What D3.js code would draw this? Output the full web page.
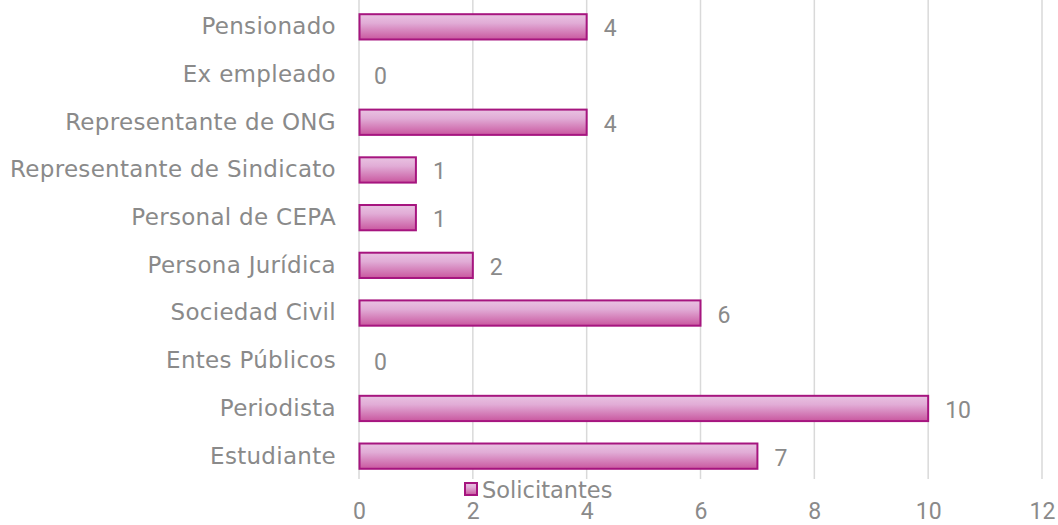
<!DOCTYPE html>
<html><head><meta charset="utf-8">
<script src="https://cdn.jsdelivr.net/npm/d3@7"></script>
<style>
html,body{margin:0;padding:0;background:#fff;}
svg{display:block;}
text{font-family:"DejaVu Sans",sans-serif;}
</style></head>
<body>
<svg id="c" width="1058" height="525"></svg>
<script>
const categories = ["Pensionado","Ex empleado","Representante de ONG","Representante de Sindicato","Personal de CEPA","Persona Jurídica","Sociedad Civil","Entes Públicos","Periodista","Estudiante"];
const values = [4,0,4,1,1,2,6,0,10,7];
const xTicks = [0,2,4,6,8,10,12];
const seriesName = "Solicitantes";

(function(){
const rows = categories.map((c,i)=>({c, v: values[i]}));
const svg = d3.select("#c");
const pL = 359, pR = 1042, pT = 3, pB = 480;
const x = d3.scaleLinear().domain([0,12]).range([pL,pR]);
const y = d3.scaleBand().domain(categories).range([pT,pB]).paddingInner(0.47).paddingOuter(0.235);
const grey = "#8a8a8a";

const defs = svg.append("defs");
const g = defs.append("linearGradient").attr("id","bg").attr("x1",0).attr("y1",0).attr("x2",0).attr("y2",1);
g.append("stop").attr("offset","0%").attr("stop-color","#e9c3e2");
g.append("stop").attr("offset","35%").attr("stop-color","#e1acd6");
g.append("stop").attr("offset","100%").attr("stop-color","#c9579f");

// gridlines
svg.append("g").selectAll("line").data(xTicks).join("line")
  .attr("x1",d=>x(d)).attr("x2",d=>x(d)).attr("y1",0).attr("y2",479)
  .attr("stroke","#d9d9d9").attr("stroke-width",1.5);

// bars
svg.append("g").selectAll("rect").data(rows.filter(r=>r.v>0)).join("rect")
  .attr("x",x(0)+0.5).attr("y",d=>y(d.c))
  .attr("width",d=>x(d.v)-x(0)-0.5)
  .attr("height",y.bandwidth())
  .attr("fill","url(#bg)").attr("stroke","#a6157f").attr("stroke-width",2);

// value labels
svg.append("g").selectAll("text").data(rows).join("text")
  .attr("x",d=>x(d.v)+(d.v>0?17:15))
  .attr("y",d=>y(d.c)+y.bandwidth()/2+9.5)
  .attr("fill",grey).attr("font-size",23)
  .style("font-family","Roboto,sans-serif")
  .text(d=>d.v);

// category labels
const ay = d3.axisLeft(y).tickSize(0).tickPadding(23);
const gy = svg.append("g").attr("transform",`translate(${x(0)},0)`).call(ay);
gy.select(".domain").remove();
gy.selectAll("text").attr("fill",grey).attr("font-size",23).attr("dy","0.32em")
  .style("font-family","'DejaVu Sans',sans-serif").style("letter-spacing","0.3px");

// x tick labels
const ax = d3.axisBottom(x).tickValues(xTicks).tickSize(0).tickPadding(0);
const gx = svg.append("g").attr("transform",`translate(0,503)`).call(ax);
gx.select(".domain").remove();
gx.selectAll("text").attr("fill",grey).attr("font-size",23).attr("dy","0.71em")
  .style("font-family","Roboto,sans-serif");

// legend
const lg = svg.append("g");
lg.append("rect").attr("x",465).attr("y",483).attr("width",12).attr("height",12)
  .attr("fill","url(#bg)").attr("stroke","#a6157f").attr("stroke-width",2);
lg.append("text").attr("x",482).attr("y",497.5).attr("fill",grey).attr("font-size",22.5)
  .text(seriesName);
})();
</script>
</body></html>
